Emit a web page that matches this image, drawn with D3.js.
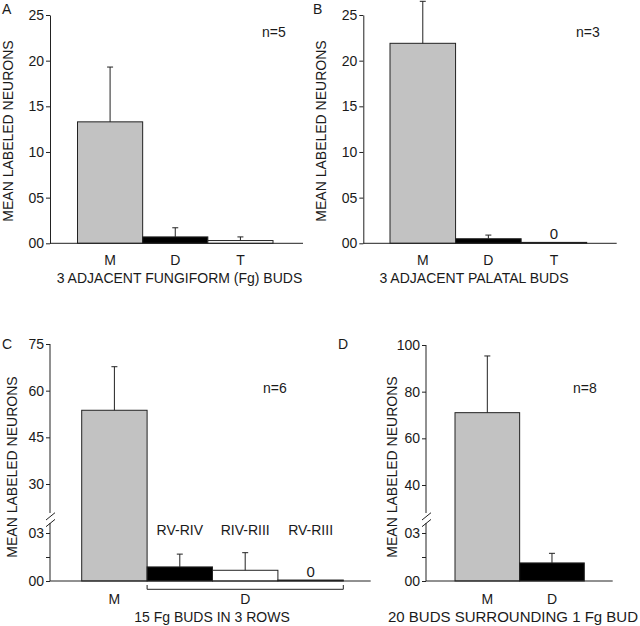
<!DOCTYPE html>
<html>
<head>
<meta charset="utf-8">
<script src="https://cdn.jsdelivr.net/npm/d3@7"></script>
<style>
  html, body { margin: 0; padding: 0; background: #fff; }
  svg { display: block; }
  text { font-family: "Liberation Sans", Arial, sans-serif; fill: #1a1a1a; }
</style>
</head>
<body>
<svg id="chart" width="640" height="626"></svg>
<script>
// ---------------- DATA ----------------
const yAxisTitle = "MEAN LABELED NEURONS";

// Panel A
const catsA = ["M", "D", "T"];
const meansA = [13.3, 0.7, 0.3];
const semA = [6.0, 1.0, 0.4];
const ticksA = [0, 5, 10, 15, 20, 25];
const nA = "n=5";
const titleA = "3 ADJACENT FUNGIFORM (Fg) BUDS";

// Panel B
const catsB = ["M", "D", "T"];
const meansB = [21.9, 0.5, 0.1];
const semB = [4.6, 0.4, null];
const ticksB = [0, 5, 10, 15, 20, 25];
const nB = "n=3";
const titleB = "3 ADJACENT PALATAL BUDS";

// Panel C (broken axis)
const catsC = ["M", "RV-RIV", "RIV-RIII", "RV-RIII"];
const meansC = [53.7, 0.88, 0.67, 0.06];
const semC = [14.0, 0.8, 1.1, null];
const upperTicksC = [30, 45, 60, 75];
const lowerTicksC = [0, 1.5, 3];
const nC = "n=6";
const titleC = "15 Fg BUDS IN 3 ROWS";
const groupLabelsC = ["M", "D"];

// Panel D (broken axis)
const catsD = ["M", "D"];
const meansD = [71, 1.13];
const semD = [24.3, 0.6];
const upperTicksD = [40, 60, 80, 100];
const lowerTicksD = [0, 1.5, 3];
const nD = "n=8";
const titleD = "20 BUDS SURROUNDING 1 Fg BUD";

// ---------------- DRAWING ----------------
const svg = d3.select("#chart");
const FS = 14;
const line = "#222";
const fillFor = { M: "#c2c2c2", D: "#000", T: "#fff", "RV-RIV": "#000", "RIV-RIII": "#fff", "RV-RIII": "#000" };
const fmt2 = d3.format("02d");

function txt(x, y, s, anchor, size) {
  return svg.append("text").attr("x", x).attr("y", y)
    .attr("text-anchor", anchor || "start")
    .attr("font-size", size || FS).text(s);
}

function styleAxis(g) {
  g.selectAll("path").attr("stroke", line);
  g.selectAll("line").attr("stroke", line);
  g.selectAll("text").attr("font-size", FS).attr("fill", "#1a1a1a")
    .attr("font-family", '"Liberation Sans", Arial, sans-serif');
}

function drawBars(cats, means, sems, x, yFor, baseY, zeroLabel) {
  cats.forEach((c, i) => {
    const y = yFor(means[i]);
    svg.append("rect")
      .attr("x", x(c)).attr("y", y)
      .attr("width", x.bandwidth()).attr("height", Math.max(0.5, baseY - y))
      .attr("fill", fillFor[c]).attr("stroke", line).attr("stroke-width", 1);
    const cx = x(c) + x.bandwidth() / 2;
    if (sems[i] != null) {
      const ye = yFor(means[i] + sems[i]);
      svg.append("line").attr("x1", cx).attr("x2", cx).attr("y1", y).attr("y2", ye)
        .attr("stroke", line).attr("stroke-width", 1);
      svg.append("line").attr("x1", cx - 3).attr("x2", cx + 3).attr("y1", ye).attr("y2", ye)
        .attr("stroke", line).attr("stroke-width", 1);
    } else if (zeroLabel) {
      txt(cx, y - 3, "0", "middle", FS + 1);
    }
  });
}

// simple panel (A, B)
function simplePanel(o) {
  const y = d3.scaleLinear().domain([0, 25]).range([243.3, 15]);
  const x = d3.scaleBand().domain(o.cats).range(o.barRange).paddingInner(0).paddingOuter(0);
  const g = svg.append("g").attr("transform", `translate(${o.axisX},0)`)
    .call(d3.axisLeft(y).tickValues(o.ticks).tickFormat(fmt2).tickSize(4).tickSizeOuter(0).tickPadding(2));
  styleAxis(g);
  drawBars(o.cats, o.means, o.sems, x, y, y(0), true);
  svg.append("line").attr("x1", o.axisX).attr("x2", o.axisEnd).attr("y1", y(0)).attr("y2", y(0))
    .attr("stroke", line);
  o.cats.forEach(c => txt(x(c) + x.bandwidth() / 2, 265, c, "middle"));
  txt(o.titleX, 283, o.title, "middle");
  txt(o.nX, 36.5, o.n, "start");
  txt(o.letterX, 14, o.letter, "start");
  svg.append("text").attr("font-size", FS).attr("text-anchor", "middle")
    .attr("transform", `translate(${o.labelX},131) rotate(-90)`).text(yAxisTitle);
}

// broken-axis panel (C, D)
function brokenPanel(o) {
  const base = 581;
  const yl = d3.scaleLinear().domain([0, 3]).range([base, 533]);
  const yu = d3.scaleLinear().domain(o.upperDomain).range([o.upperRange[0], o.upperRange[1]]);
  const yFor = v => v > 3 ? yu(v) : yl(v);
  const x = d3.scaleBand().domain(o.cats).range(o.barRange).paddingInner(0).paddingOuter(0);

  const gu = svg.append("g").attr("transform", `translate(${o.axisX},0)`)
    .call(d3.axisLeft(yu).tickValues(o.upperTicks).tickSize(4).tickSizeOuter(0).tickPadding(2));
  gu.select(".domain").remove();
  styleAxis(gu);
  const gl = svg.append("g").attr("transform", `translate(${o.axisX},0)`)
    .call(d3.axisLeft(yl).tickValues(o.lowerTicks)
      .tickFormat(d => d === 1.5 ? "" : fmt2(d)).tickSize(4).tickSizeOuter(0).tickPadding(2));
  gl.select(".domain").remove();
  styleAxis(gl);
  // axis segments with break
  svg.append("line").attr("x1", o.axisX).attr("x2", o.axisX)
    .attr("y1", yu(o.upperTicks[o.upperTicks.length - 1])).attr("y2", 513).attr("stroke", line);
  svg.append("line").attr("x1", o.axisX).attr("x2", o.axisX)
    .attr("y1", 523).attr("y2", base).attr("stroke", line);
  [[520, 512.7], [526.7, 519.4]].forEach(([a, b]) => {
    svg.append("line").attr("x1", o.axisX - 4).attr("x2", o.axisX + 5)
      .attr("y1", a).attr("y2", b).attr("stroke", line);
  });

  drawBars(o.cats, o.means, o.sems, x, yFor, base, true);
  svg.append("line").attr("x1", o.axisX).attr("x2", o.axisEnd).attr("y1", base).attr("y2", base)
    .attr("stroke", line);

  txt(o.titleX, 622, o.title, "middle", o.titleSize || FS);
  txt(o.nX, 393, o.n, "start");
  txt(o.letterX, 348.5, o.letter, "start");
  svg.append("text").attr("font-size", FS).attr("text-anchor", "middle")
    .attr("transform", `translate(${o.labelX},467) rotate(-90)`).text(yAxisTitle);
  return x;
}

simplePanel({
  cats: catsA, means: meansA, sems: semA, ticks: ticksA, n: nA, title: titleA, letter: "A",
  axisX: 50, axisEnd: 303, barRange: [77.5, 273], titleX: 179.5, nX: 262, letterX: 2, labelX: 13.3
});
simplePanel({
  cats: catsB, means: meansB, sems: semB, ticks: ticksB, n: nB, title: titleB, letter: "B",
  axisX: 363.3, axisEnd: 616.7, barRange: [390, 586.7], titleX: 474, nX: 576, letterX: 313, labelX: 326
});

const xC = brokenPanel({
  cats: catsC, means: meansC, sems: semC, upperTicks: upperTicksC, lowerTicks: lowerTicksC,
  upperDomain: [30, 75], upperRange: [484, 344],
  n: nC, title: titleC, letter: "C",
  axisX: 50, axisEnd: 370.7, barRange: [81.7, 343.3], titleX: 212, nX: 263, letterX: 2, labelX: 17.3
});
// C: sub-bar labels, bracket and group labels
catsC.slice(1).forEach(c => txt(xC(c) + xC.bandwidth() / 2, 535, c, "middle"));
const bx0 = xC(catsC[1]), bx1 = xC(catsC[3]) + xC.bandwidth();
svg.append("path").attr("d", `M${bx0},585 V589.3 H${bx1} V585`)
  .attr("fill", "none").attr("stroke", line);
txt(xC("M") + xC.bandwidth() / 2, 604, groupLabelsC[0], "middle");
txt((bx0 + bx1) / 2, 604, groupLabelsC[1], "middle");

const xD = brokenPanel({
  cats: catsD, means: meansD, sems: semD, upperTicks: upperTicksD, lowerTicks: lowerTicksD,
  upperDomain: [40, 100], upperRange: [485, 345],
  n: nD, title: titleD, letter: "D", titleSize: 15,
  axisX: 426, axisEnd: 612.7, barRange: [455, 584.3], titleX: 513, nX: 573, letterX: 338, labelX: 397
});
catsD.forEach(c => txt(xD(c) + xD.bandwidth() / 2, 604, c, "middle"));
</script>
</body>
</html>
